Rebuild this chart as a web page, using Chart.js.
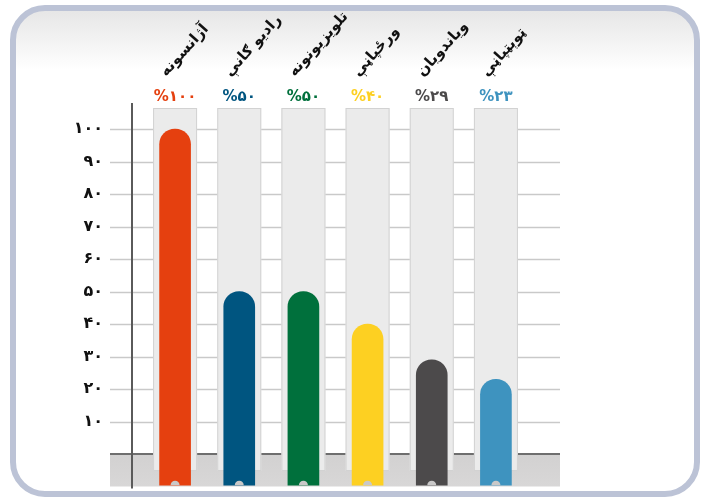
<!DOCTYPE html>
<html>
<head>
<meta charset="utf-8">
<script src="https://cdn.jsdelivr.net/npm/chart.js@4/dist/chart.umd.min.js"></script>
<style>
  html, body { margin: 0; padding: 0; background: #fff; }
  #wrap { width: 709px; height: 499px; position: relative; }
</style>
</head>
<body>
<div id="wrap"><canvas id="chart"></canvas></div>
<script>
// ==========================
// Data
// ==========================
const categories = ["آژانسونه", "رادیو ګانې", "تلویزیونونه", "ورځپاڼې", "ویاندویان", "ټوېټپاڼې"];
const shares = [100, 50, 50, 40, 29, 23];
const barColors = ["#e5400f", "#005580", "#00703c", "#fdd022", "#4c4a4b", "#3e93bf"];
const yTicks = [10, 20, 30, 40, 50, 60, 70, 80, 90, 100];

const faDigits = "۰۱۲۳۴۵۶۷۸۹";
function toFa(n) {
  return String(n).replace(/\d/g, d => faDigits[d]);
}

function roundRect(ctx, x, y, w, h, r) {
  ctx.beginPath();
  ctx.moveTo(x + r, y);
  ctx.arcTo(x + w, y, x + w, y + h, r);
  ctx.arcTo(x + w, y + h, x, y + h, r);
  ctx.arcTo(x, y + h, x, y, r);
  ctx.arcTo(x, y, x + w, y, r);
  ctx.closePath();
}

// ==========================
// Decorations
// ==========================
const decor = {
  id: "decor",
  beforeDraw(chart) {
    const ctx = chart.ctx;
    ctx.save();
    ctx.fillStyle = "#fff";
    ctx.fillRect(0, 0, chart.width, chart.height);
    // frame
    const g = ctx.createLinearGradient(0, 10, 0, 70);
    g.addColorStop(0, "#e6e6e6");
    g.addColorStop(1, "#ffffff");
    roundRect(ctx, 13, 8, 684, 486, 32);
    ctx.fillStyle = g;
    ctx.fill();
    ctx.lineWidth = 6;
    ctx.strokeStyle = "#bcc3d6";
    ctx.stroke();
    ctx.restore();
  },
  beforeDatasetsDraw(chart) {
    const ctx = chart.ctx;
    const x = chart.scales.x;
    const y = chart.scales.y;
    const y0 = y.getPixelForValue(0);
    const yBottom = chart.chartArea.bottom;
    const gx0 = 110, gx1 = 560;
    ctx.save();
    // grid lines
    ctx.strokeStyle = "#c9c9c9";
    ctx.lineWidth = 1.5;
    yTicks.forEach(v => {
      const py = Math.round(y.getPixelForValue(v)) + 0.5;
      ctx.beginPath();
      ctx.moveTo(gx0, py);
      ctx.lineTo(gx1, py);
      ctx.stroke();
    });
    // gray band under zero
    const bg = ctx.createLinearGradient(0, y0, 0, yBottom);
    bg.addColorStop(0, "#d2d1d1");
    bg.addColorStop(1, "#d8d7d7");
    ctx.fillStyle = bg;
    ctx.fillRect(gx0, y0, gx1 - gx0, yBottom - y0);
    ctx.strokeStyle = "#6e6e6e";
    ctx.lineWidth = 2;
    ctx.beginPath();
    ctx.moveTo(gx0, y0);
    ctx.lineTo(gx1, y0);
    ctx.stroke();
    // tracks behind bars
    categories.forEach((c, i) => {
      const cx = x.getPixelForValue(i);
      ctx.fillStyle = "#ebebeb";
      ctx.fillRect(cx - 22, 108, 44, 363);
      ctx.strokeStyle = "#d2d2d2";
      ctx.lineWidth = 1;
      ctx.strokeRect(cx - 21.5, 108.5, 43, 362);
    });
    // axis line
    ctx.strokeStyle = "#5a5a5a";
    ctx.lineWidth = 2;
    ctx.beginPath();
    ctx.moveTo(132, chart.chartArea.top);
    ctx.lineTo(132, yBottom + 2);
    ctx.stroke();
    ctx.restore();
  },
  afterDatasetsDraw(chart) {
    const ctx = chart.ctx;
    const x = chart.scales.x;
    const meta = chart.getDatasetMeta(0);
    ctx.save();
    ctx.direction = "ltr";
    meta.data.forEach((bar, i) => {
      const cx = x.getPixelForValue(i);
      // notch at bar foot
      ctx.fillStyle = "#c9c8c8";
      ctx.beginPath();
      ctx.arc(cx, bar.base, 4.5, Math.PI, 2 * Math.PI);
      ctx.fill();
      // percent label
      ctx.fillStyle = barColors[i];
      ctx.font = "bold 15px 'DejaVu Sans'";
      ctx.textAlign = "center";
      ctx.textBaseline = "middle";
      ctx.fillText("%" + toFa(shares[i]), cx, 97);
      // category label
      ctx.save();
      ctx.translate(cx - 9, 77);
      ctx.rotate(-48 * Math.PI / 180);
      ctx.fillStyle = "#111";
      ctx.font = "bold 15px 'DejaVu Sans'";
      ctx.textAlign = "left";
      ctx.textBaseline = "alphabetic";
      ctx.fillText(categories[i], 0, 0);
      ctx.restore();
    });
    ctx.restore();
  }
};

// ==========================
// Chart
// ==========================
new Chart(document.getElementById("chart"), {
  type: "bar",
  data: {
    labels: categories,
    datasets: [{
      data: shares,
      backgroundColor: barColors,
      base: -9.6,
      barThickness: 31,
      borderRadius: { topLeft: 16, topRight: 16, bottomLeft: 0, bottomRight: 0 },
      borderWidth: 0
    }]
  },
  options: {
    responsive: true,
    maintainAspectRatio: false,
    animation: false,
    layout: { padding: { top: 103, bottom: 12.5, right: 181, left: 0 } },
    plugins: { legend: { display: false }, tooltip: { enabled: false } },
    scales: {
      x: { display: false },
      y: {
        min: -10,
        max: 108,
        afterFit: s => { s.width = 143; s.paddingTop = 0; s.paddingBottom = 0; },
        afterBuildTicks: s => { s.ticks = yTicks.map(v => ({ value: v })); },
        grid: { display: false, drawTicks: false },
        border: { display: false },
        ticks: {
          padding: 40,
          color: "#111",
          font: { family: "'DejaVu Sans'", size: 16, weight: "bold" },
          callback: v => toFa(v)
        }
      }
    }
  },
  plugins: [decor]
});
</script>
</body>
</html>
